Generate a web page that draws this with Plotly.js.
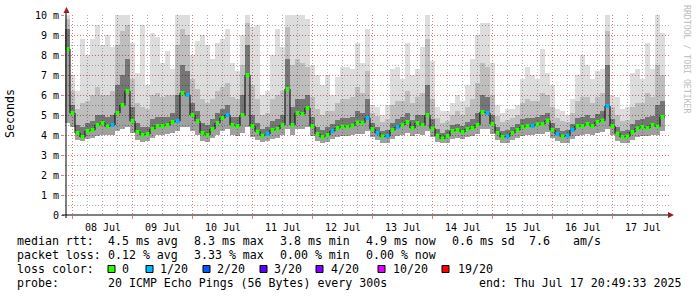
<!DOCTYPE html>
<html>
<head>
<meta charset="utf-8">
<script src="https://cdn.plot.ly/plotly-3.0.1.min.js"></script>
<style>html,body{margin:0;padding:0;background:#fff;}#chart{width:697px;height:297px;}</style>
</head>
<body>
<div id="chart"></div>
<script>
// ---- data (2-hour columns starting at graph start, values in ms) ----
const START_TIME = '2025-07-07T20:49:33Z';
const STEP_HOURS = 2;

const medianRtt = [8.3,5.1,4.1,3.9,4.2,4.25,4.5,4.6,4.43,4.5,
5.1,5.5,6.2,4.7,4.15,4.0,4.05,4.3,4.45,4.45,
4.5,4.65,4.7,6.1,6.0,5.0,4.7,4.1,4.0,4.3,
4.6,4.85,5.0,4.5,4.45,5.0,7.0,4.45,4.17,3.97,
4.05,4.25,4.3,4.5,6.3,4.5,5.1,5.05,5.35,4.45,
4.05,3.9,4.0,4.2,4.35,4.42,4.4,4.47,4.63,4.62,
4.85,4.3,4.1,3.92,3.95,4.25,4.4,4.5,4.65,4.35,
4.6,4.5,5.0,4.33,3.97,3.82,3.95,4.2,4.25,4.15,
4.3,4.35,4.5,5.15,5.1,4.55,4.1,3.9,3.93,4.1,
4.25,4.4,4.45,4.45,4.53,4.55,4.72,4.25,4.05,3.93,
3.97,4.25,4.45,4.45,4.55,4.45,4.65,4.72,5.45,4.45,
4.07,3.9,3.93,4.15,4.33,4.4,4.35,4.5,4.42,4.9,
4.9];

const smokeMin = [4.6,4.4,3.75,3.7,3.8,3.85,3.95,4.0,4.0,4.0,
4.2,4.3,4.4,4.1,3.75,3.65,3.7,3.85,4.0,4.0,
4.05,4.1,4.2,4.4,4.4,4.2,4.0,3.7,3.65,3.85,
4.0,4.2,4.3,4.0,3.95,4.1,4.4,3.9,3.75,3.65,
3.7,3.8,3.85,4.0,4.3,4.0,4.3,4.3,4.4,3.95,
3.7,3.6,3.65,3.8,3.9,3.95,3.95,4.0,4.05,4.05,
4.2,3.9,3.75,3.6,3.6,3.8,3.95,4.0,4.1,3.95,
4.05,4.0,4.2,3.9,3.65,3.6,3.6,3.8,3.85,3.8,
3.9,3.95,4.05,4.3,4.3,4.05,3.75,3.6,3.6,3.75,
3.85,3.95,4.0,4.0,4.05,4.05,4.15,3.85,3.7,3.6,
3.6,3.8,3.95,4.0,4.05,4.0,4.1,4.15,4.3,4.0,
3.7,3.6,3.6,3.75,3.9,3.95,3.95,4.0,4.0,4.2,
4.2];

const smokeDark = [9.3,5.5,4.5,4.4,4.6,4.7,5.0,5.0,4.9,5.0,
6.5,7.0,7.8,5.4,4.6,4.4,4.4,4.8,4.9,4.9,
4.9,5.1,6.0,7.5,7.2,5.6,5.2,4.6,4.5,4.8,
5.1,5.3,5.5,4.9,4.9,6.0,8.5,5.0,4.6,4.3,
4.4,4.7,4.8,5.0,7.8,5.4,5.8,5.8,6.0,4.9,
4.4,4.25,4.4,4.55,4.75,4.85,4.85,4.9,5.2,5.1,
5.8,4.6,4.4,4.2,4.25,4.6,4.8,4.9,5.1,4.75,
5.0,5.0,6.5,4.8,4.3,4.1,4.25,4.5,4.55,4.45,
4.65,4.8,5.1,6.0,5.9,5.0,4.4,4.2,4.25,4.4,
4.55,4.8,4.85,4.85,4.9,5.0,5.1,4.6,4.35,4.2,
4.25,4.55,4.85,4.9,5.0,4.85,5.05,5.2,7.5,4.8,
4.4,4.2,4.25,4.55,4.75,4.8,4.9,4.95,5.5,5.7,
5.7];

const smokeMid = [9.8,6.2,5.3,5.6,5.7,6.0,6.4,6.0,6.0,6.2,
8.5,9.2,9.5,6.8,5.6,5.4,5.3,6.0,6.1,5.9,
6.0,6.0,8.5,9.3,9.0,6.8,6.3,5.8,5.6,5.8,
6.2,6.4,6.6,5.9,5.8,7.5,9.6,6.5,5.8,5.0,
5.1,5.8,6.0,6.2,9.4,7.5,7.8,7.6,7.4,5.9,
5.3,5.0,5.2,5.2,5.6,5.8,5.8,5.9,6.4,6.1,
7.2,5.1,4.95,4.65,4.8,5.5,5.7,5.7,6.2,5.6,
5.9,6.1,8.8,5.8,4.85,4.6,4.7,5.0,5.2,5.0,
5.4,5.8,6.6,7.6,7.4,6.0,4.95,4.65,4.75,4.85,
5.0,5.6,5.8,5.7,5.7,6.1,6.0,5.4,4.85,4.7,
4.65,5.1,5.7,5.9,5.9,5.6,5.9,6.1,9.2,5.4,
5.0,4.7,4.75,5.4,5.6,5.6,6.1,5.9,7.5,7.0,
7.0];

const smokeMax = [10,7.0,6.2,8.8,8.0,8.8,9.5,8.5,9.0,8.4,
10,10,10,8.6,7.1,9.5,6.5,9.1,8.9,7.6,
8.2,7.3,10,10,10,8.0,8.7,9.0,8.5,7.8,
8.6,8.8,9.3,7.6,7.2,9.0,10,9.4,9.5,6.0,
6.2,8.0,9.3,8.4,10,10,10,10,9.8,7.5,
7.0,6.5,7.0,6.0,6.9,7.4,7.4,7.3,8.6,7.6,
9.3,5.5,5.4,5.0,5.5,7.3,7.4,6.8,8.6,7.0,
7.3,8.4,10,7.7,5.4,5.2,5.2,5.6,6.0,5.7,
6.5,7.8,9.0,9.6,9.6,7.6,5.5,5.1,5.3,5.3,
5.5,6.8,7.4,7.0,6.8,8.3,7.1,6.5,5.3,5.2,
5.0,5.8,7.0,8.0,7.5,6.8,7.2,7.3,10,6.0,
5.9,5.3,5.4,7.1,7.3,6.8,8.6,7.3,10,9.1,
9.1];

// lost pings (out of 20) per column
const lossCount = [0,0,0,0,0,0,0,0,0,1,
0,0,0,0,0,0,0,0,0,0,
0,0,1,0,1,0,0,0,0,0,
0,0,1,0,0,0,0,0,0,0,
1,0,0,0,0,0,0,0,0,0,
0,0,0,1,0,0,0,0,0,0,
1,0,1,0,1,0,1,0,0,0,
0,0,0,0,0,0,0,0,0,0,
0,0,0,0,1,0,0,0,1,0,
0,0,0,1,0,0,0,0,1,0,
1,1,0,0,0,0,0,0,1,0,
0,0,0,0,0,0,0,0,0,0,
0];

const yTickVals = [0,1,2,3,4,5,6,7,8,9,10];
const yTickText = ['0','1 m','2 m','3 m','4 m','5 m','6 m','7 m','8 m','9 m','10 m'];

const lossLevels = ['0','1/20','2/20','3/20','4/20','10/20','19/20'];
const lossColors = ['#26ff00','#00b8ff','#0059ff','#5e00ff','#7e00ff','#dd00ff','#ff0000'];

const rttLabels = ['median rtt:', '4.5 ms avg', '8.3 ms max', '3.8 ms min', '4.9 ms now', '0.6 ms sd', '7.6', 'am/s'];
const lossLabels = ['packet loss:', '0.12 % avg', '3.33 % max', '0.00 % min', '0.00 % now'];
const colorLabel = 'loss color:';
const probeLabels = ['probe:', '20 ICMP Echo Pings (56 Bytes) every 300s', 'end: Thu Jul 17 20:49:33 2025'];
const yTitle = 'Seconds';
const watermark = 'RRDTOOL / TOBI OETIKER';

// ---- helpers ----
const H = 3600 * 1000;
const t0 = Date.parse(START_TIME);
const fmt = ms => new Date(ms).toISOString().replace('T', ' ').replace('Z', '');
const times = medianRtt.map((_, i) => fmt(t0 + i * STEP_HOURS * H));
const markerTimes = medianRtt.slice(0, -1).map((_, i) => fmt(t0 + (i + 0.5) * STEP_HOURS * H));
const markerVals = medianRtt.slice(0, -1);
const markerCols = lossCount.slice(0, -1).map(c => c === 0 ? lossColors[0] : lossColors[1]);

const W = 697, HT = 297;
const L = 65, R = 28, T = 15, B = 82;
const PW = W - L - R, PH = HT - T - B;
const px = x => (x - L) / PW;
const py = y => (T + PH - y) / PH;
const spanMs = 240 * H; // 10 days drawn over 600 px
const xRange = [fmt(t0), fmt(t0 + spanMs * PW / 600)];

const MONO = 'DejaVu Sans Mono, monospace';
const nb = s => s.replace(/ /g, '\u00a0');
const gray = v => `rgba(0,0,0,${(1 - v / 255).toFixed(3)})`;

function band(y, color) {
  return {x: times, y: y, type: 'scatter', mode: 'lines', line: {width: 0, shape: 'hv'},
    fill: 'tonexty', fillcolor: color, hoverinfo: 'skip', showlegend: false};
}

const traces = [
  {x: times, y: smokeMin, type: 'scatter', mode: 'lines', line: {width: 0, shape: 'hv'}, hoverinfo: 'skip', showlegend: false},
  band(medianRtt, gray(160)),
  band(smokeDark, gray(118)),
  band(smokeMid, gray(190)),
  band(smokeMax, gray(221)),
  {x: times, y: medianRtt, type: 'scatter', mode: 'lines', line: {color: '#000', width: 1, shape: 'hv'}, hoverinfo: 'skip', showlegend: false},
  {x: markerTimes, y: markerVals, type: 'scatter', mode: 'markers', marker: {symbol: 'square', size: 4, color: markerCols, line: {width: 0}}, hoverinfo: 'skip', showlegend: false},
  {x: times, y: medianRtt, xaxis: 'x2', type: 'scatter', mode: 'none', hoverinfo: 'skip', showlegend: false}
];

const MAJ = 'rgba(230,110,110,0.9)';
const MIN = 'rgba(165,165,165,0.9)';

const annotations = [];
function txt(x, y, s) {
  annotations.push({xref: 'paper', yref: 'paper', x: px(x - 1.5), y: py(y), xanchor: 'left', yanchor: 'middle',
    showarrow: false, text: nb(s), font: {family: MONO, size: 11.6, color: '#000'}});
}
const colX = [16, 107, 193, 279, 365, 451, 528, 572];
rttLabels.forEach((s, k) => txt(colX[k], 241, s));
lossLabels.forEach((s, k) => txt(colX[k], 255, s));
txt(16, 269, colorLabel);
txt(16, 283, probeLabels[0]);
txt(107, 283, probeLabels[1]);
txt(478, 283, probeLabels[2]);

const boxX = [108, 146, 203, 260, 316, 378, 442];
const labX = [121, 159, 216, 273, 330, 392, 457];
const shapes = [];
lossLevels.forEach((lv, k) => {
  shapes.push({type: 'rect', xref: 'paper', yref: 'paper', x0: px(boxX[k]), x1: px(boxX[k] + 7), y0: py(272.5), y1: py(265.5),
    fillcolor: lossColors[k], line: {color: '#000', width: 1}});
  txt(labX[k], 269, lv);
});

annotations.push({xref: 'paper', yref: 'paper', x: px(10), y: py(114), xanchor: 'center', yanchor: 'middle', showarrow: false,
  text: yTitle, textangle: -90, font: {family: MONO, size: 11.6, color: '#000'}});
annotations.push({xref: 'paper', yref: 'paper', x: px(687), y: py(59), xanchor: 'center', yanchor: 'middle', showarrow: false,
  text: nb(watermark), textangle: 90, font: {family: MONO, size: 8.2, color: '#bdbdbd'}});

// axis lines + arrows
shapes.push({type: 'line', xref: 'paper', yref: 'paper', x0: px(62), x1: px(670), y0: py(215), y1: py(215), line: {color: '#000', width: 1}, layer: 'above'});
shapes.push({type: 'line', xref: 'paper', yref: 'paper', x0: px(66), x1: px(66), y0: py(218), y1: py(11), line: {color: '#000', width: 1}, layer: 'above'});
shapes.push({type: 'path', xref: 'paper', yref: 'paper', layer: 'above',
  path: `M${px(63.5)},${py(13)} L${px(69.5)},${py(13)} L${px(66.5)},${py(7)} Z`, fillcolor: '#9a1c1c', line: {width: 0}});
shapes.push({type: 'path', xref: 'paper', yref: 'paper', layer: 'above',
  path: `M${px(668)},${py(212)} L${px(668)},${py(218)} L${px(674)},${py(215)} Z`, fillcolor: '#9a1c1c', line: {width: 0}});

const layout = {
  width: W, height: HT,
  margin: {l: L, r: R, t: T, b: B, pad: 0},
  paper_bgcolor: '#fff', plot_bgcolor: '#fff',
  showlegend: false,
  xaxis: {
    type: 'date', range: xRange, automargin: false, fixedrange: true,
    tick0: '2025-07-08', dtick: 86400000,
    showgrid: true, gridcolor: MAJ, griddash: '1px,2px', gridwidth: 1,
    showticklabels: false, ticks: 'outside', ticklen: 3, tickcolor: MAJ,
    zeroline: false, showline: false,
    minor: {tick0: '2025-07-08', dtick: 6 * H, showgrid: true, gridcolor: MIN, griddash: '1px,2px', ticks: ''}
  },
  xaxis2: {
    type: 'date', range: xRange, overlaying: 'x', anchor: 'y', side: 'bottom', automargin: false, fixedrange: true,
    tick0: '2025-07-08 12:00', dtick: 86400000, tickformat: '%d %b',
    showgrid: false, zeroline: false, showline: false, ticks: 'outside', ticklen: 3, tickcolor: 'rgba(0,0,0,0)',
    tickfont: {family: MONO, size: 10, color: '#000'}
  },
  yaxis: {
    range: [0, 10], automargin: false, fixedrange: true,
    tickmode: 'array', tickvals: yTickVals, ticktext: yTickText,
    showgrid: true, gridcolor: MAJ, griddash: '1px,2px',
    ticks: 'outside', ticklen: 3, tickcolor: MAJ,
    tickfont: {family: MONO, size: 10, color: '#000'},
    zeroline: false, showline: false,
    minor: {dtick: 0.5, showgrid: true, gridcolor: MIN, griddash: '1px,2px', ticks: ''}
  },
  annotations: annotations,
  shapes: shapes
};

Plotly.newPlot('chart', traces, layout, {staticPlot: true, displayModeBar: false});
</script>
</body>
</html>
